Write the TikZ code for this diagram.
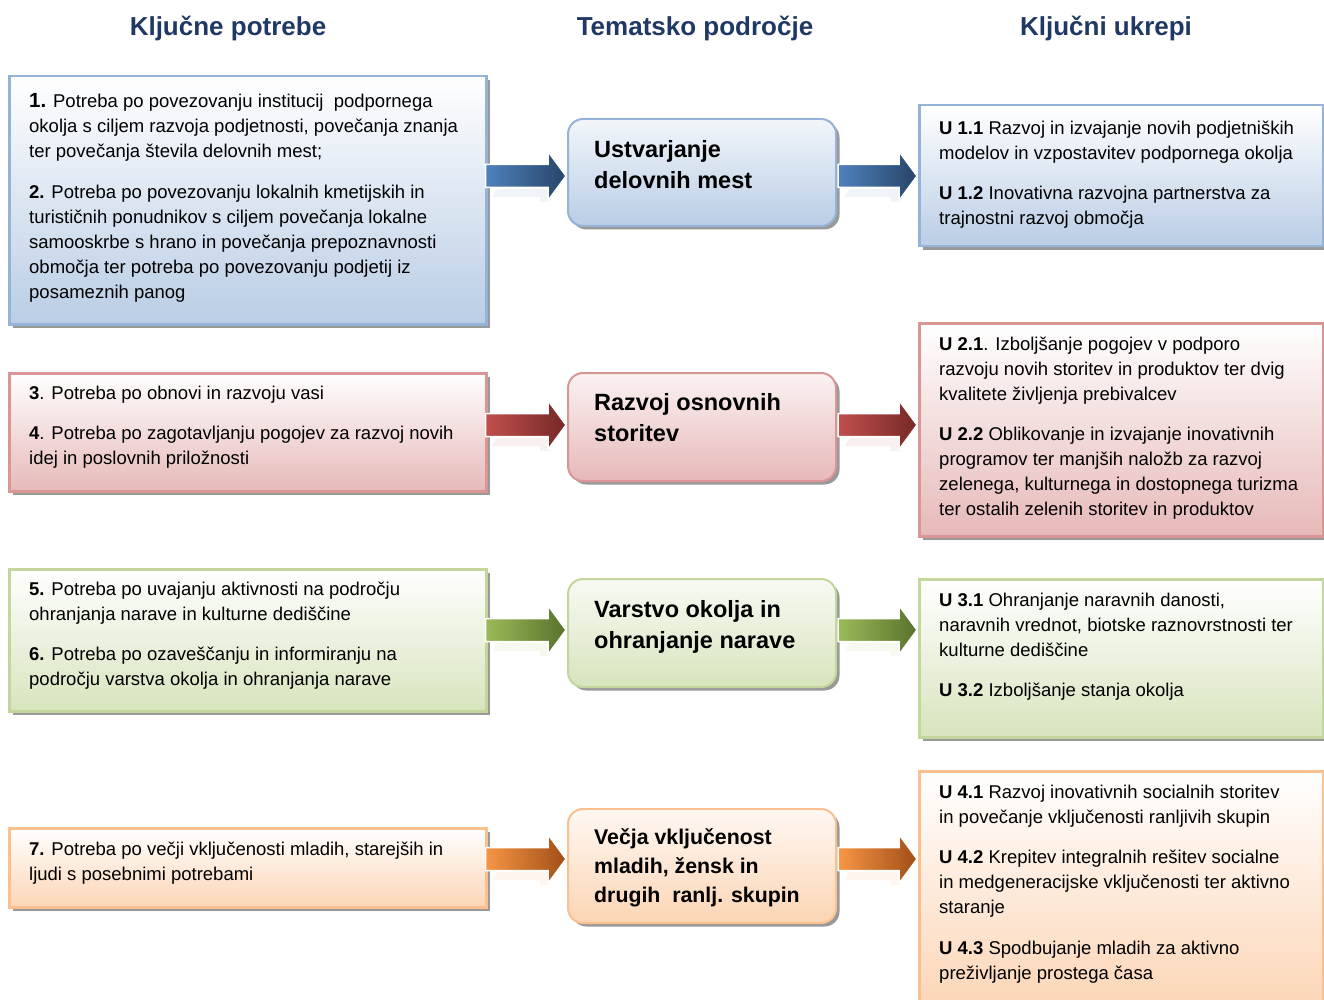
\documentclass[tikz,border=0pt]{standalone}
\usepackage{fontspec}
\setmainfont{Liberation Sans}
\usetikzlibrary{calc,shadows}
\definecolor{hdr}{RGB}{31,56,100}
\definecolor{bluebd}{RGB}{149,179,215}
\definecolor{bluefl}{RGB}{185,205,229}
\definecolor{bluea}{RGB}{79,129,189}
\definecolor{blueb}{RGB}{40,68,104}
\definecolor{redbd}{RGB}{217,150,148}
\definecolor{redfl}{RGB}{230,185,184}
\definecolor{reda}{RGB}{192,80,77}
\definecolor{redb}{RGB}{118,40,38}
\definecolor{greenbd}{RGB}{195,214,155}
\definecolor{greenfl}{RGB}{215,228,189}
\definecolor{greena}{RGB}{155,187,89}
\definecolor{greenb}{RGB}{88,114,44}
\definecolor{orangebd}{RGB}{250,192,144}
\definecolor{orangefl}{RGB}{252,213,181}
\definecolor{orangea}{RGB}{247,150,70}
\definecolor{orangeb}{RGB}{160,78,22}
\tikzset{
  boxbase/.style={rectangle, inner sep=0pt, anchor=north west,
    drop shadow={shadow xshift=3.5pt, shadow yshift=-3.5pt, fill=black!40, opacity=1}},
  needbox/.style={boxbase, draw=#1bd, line width=2.5pt, top color=white, bottom color=#1fl},
  themebox/.style={boxbase, draw=#1bd, line width=2pt, rounded corners=15pt,
    top color=#1fl!18!white, bottom color=#1fl},
  txt/.style={anchor=north west, inner sep=0pt, align=left, text=black,
    font=\fontsize{18.5}{25}\selectfont},
  themetxt/.style={anchor=north west, inner sep=0pt, align=left, text=black,
    font=\bfseries\fontsize{23.5}{31.5}\selectfont},
  header/.style={anchor=base, inner sep=0pt, text=hdr,
    font=\bfseries\fontsize{26}{30}\selectfont},
}
\newcommand\myarrow[3]{%
  \fill[#3a!25, opacity=.35] ($(#1)+(12,13)$) -- ($(#2)+(-18,13)$) -- ($(#2)+(-16,26)$) -- ($(#2)+(-26,26)$) -- ($(#2)+(-26,21)$) -- ($(#1)+(6,21)$) -- cycle;
  \draw[draw=white, line width=1.5pt, left color=#3a, right color=#3b]
    ($(#1)+(0,-11.5)$) -- ($(#2)+(-18,-11.5)$) -- ($(#2)+(-18,-24.5)$) -- (#2)
    -- ($(#2)+(-18,24.5)$) -- ($(#2)+(-18,11.5)$) -- ($(#1)+(0,11.5)$) -- cycle;}
\begin{document}
\begin{tikzpicture}[x=1pt,y=-1pt]
\useasboundingbox (0,0) rectangle (1324,1000);
\clip (0,0) rectangle (1324,1000);

% headers
\node[header] (h1) at (228,35.5) {Ključne potrebe};
\node[header] (h2) at (695,35.5) {Tematsko področje};
\node[header] (h3) at (1106,35.5) {Ključni ukrepi};

% left boxes
\node[needbox=blue, minimum width=477pt, minimum height=248pt] (n1) at (8,75) {};
\node[needbox=red, minimum width=477pt, minimum height=118pt] (n2) at (8,372) {};
\node[needbox=green, minimum width=477pt, minimum height=142pt] (n3) at (8,568) {};
\node[needbox=orange, minimum width=477pt, minimum height=79pt] (n4) at (8,827) {};

% centre boxes
\node[themebox=blue, minimum width=268pt, minimum height=107pt] (c1) at (567,118) {};
\node[themebox=red, minimum width=268pt, minimum height=108pt] (c2) at (567,372) {};
\node[themebox=green, minimum width=268pt, minimum height=108pt] (c3) at (567,578) {};
\node[themebox=orange, minimum width=268pt, minimum height=114pt] (c4) at (567,808) {};

% right boxes
\node[needbox=blue, minimum width=404pt, minimum height=141pt] (r1) at (918,104) {};
\node[needbox=red, minimum width=404pt, minimum height=213pt] (r2) at (918,322) {};
\node[needbox=green, minimum width=404pt, minimum height=158pt] (r3) at (918,578) {};
\node[needbox=orange, minimum width=404pt, minimum height=240pt] (r4) at (918,770) {};

% arrows
\coordinate (a1s) at ($(n1.east |- 0,176)+(-2,0)$);
\coordinate (a1e) at ($(c1.west |- 0,176)+(-1,0)$);
\coordinate (b1s) at ($(c1.east |- 0,176)+(1,0)$);
\coordinate (b1e) at ($(r1.west |- 0,176)+(-1,0)$);
\coordinate (a2s) at ($(n2.east |- 0,425)+(-2,0)$);
\coordinate (a2e) at ($(c2.west |- 0,425)+(-1,0)$);
\coordinate (b2s) at ($(c2.east |- 0,425)+(1,0)$);
\coordinate (b2e) at ($(r2.west |- 0,425)+(-1,0)$);
\coordinate (a3s) at ($(n3.east |- 0,630)+(-2,0)$);
\coordinate (a3e) at ($(c3.west |- 0,630)+(-1,0)$);
\coordinate (b3s) at ($(c3.east |- 0,630)+(1,0)$);
\coordinate (b3e) at ($(r3.west |- 0,630)+(-1,0)$);
\coordinate (a4s) at ($(n4.east |- 0,859)+(-2,0)$);
\coordinate (a4e) at ($(c4.west |- 0,859)+(-1,0)$);
\coordinate (b4s) at ($(c4.east |- 0,859)+(1,0)$);
\coordinate (b4e) at ($(r4.west |- 0,859)+(-1,0)$);
\myarrow{a1s}{a1e}{blue}
\myarrow{b1s}{b1e}{blue}
\myarrow{a2s}{a2e}{red}
\myarrow{b2s}{b2e}{red}
\myarrow{a3s}{a3e}{green}
\myarrow{b3s}{b3e}{green}
\myarrow{a4s}{a4e}{orange}
\myarrow{b4s}{b4e}{orange}

% left texts
\node[txt] (tn1) at (29,93.5) {{\bfseries\fontsize{20.5}{25}\selectfont 1.} Potreba po povezovanju institucij\ \ podpornega\\
okolja s ciljem razvoja podjetnosti, povečanja znanja\\
ter povečanja števila delovnih mest;\\[15.5pt]
\textbf{2.} Potreba po povezovanju lokalnih kmetijskih in\\
turističnih ponudnikov s ciljem povečanja lokalne\\
samooskrbe s hrano in povečanja prepoznavnosti\\
območja ter potreba po povezovanju podjetij iz\\
posameznih panog};
\node[txt] (tn2) at (29,385.5) {\textbf{3}. Potreba po obnovi in razvoju vasi\\[15.5pt]
\textbf{4}. Potreba po zagotavljanju pogojev za razvoj novih\\
idej in poslovnih priložnosti};
\node[txt] (tn3) at (29,581.5) {\textbf{5.} Potreba po uvajanju aktivnosti na področju\\
ohranjanja narave in kulturne dediščine\\[15.5pt]
\textbf{6.} Potreba po ozaveščanju in informiranju na\\
področju varstva okolja in ohranjanja narave};
\node[txt] (tn4) at (29,841.5) {\textbf{7.} Potreba po večji vključenosti mladih, starejših in\\
ljudi s posebnimi potrebami};

% centre texts
\node[themetxt] (tc1) at (594,140) {Ustvarjanje\\delovnih mest};
\node[themetxt] (tc2) at (594,393) {Razvoj osnovnih\\storitev};
\node[themetxt] (tc3) at (594,600) {Varstvo okolja in\\ohranjanje narave};
\node[themetxt, font=\bfseries\fontsize{21.3}{29}\selectfont] (tc4) at (594,828.5) {Večja vključenost\\mladih, žensk in\\drugih\ \ ranlj. skupin};

% right texts
\node[txt] (tr1) at (939,120.5) {\textbf{U 1.1} Razvoj in izvajanje novih podjetniških\\
modelov in vzpostavitev podpornega okolja\\[15.5pt]
\textbf{U 1.2} Inovativna razvojna partnerstva za\\
trajnostni razvoj območja};
\node[txt] (tr2) at (939,336.5) {\textbf{U 2.1}. Izboljšanje pogojev v podporo\\
razvoju novih storitev in produktov ter dvig\\
kvalitete življenja prebivalcev\\[15.5pt]
\textbf{U 2.2} Oblikovanje in izvajanje inovativnih\\
programov ter manjših naložb za razvoj\\
zelenega, kulturnega in dostopnega turizma\\
ter ostalih zelenih storitev in produktov};
\node[txt] (tr3) at (939,592.5) {\textbf{U 3.1} Ohranjanje naravnih danosti,\\
naravnih vrednot, biotske raznovrstnosti ter\\
kulturne dediščine\\[15.5pt]
\textbf{U 3.2} Izboljšanje stanja okolja};
\node[txt] (tr4) at (939,784.5) {\textbf{U 4.1} Razvoj inovativnih socialnih storitev\\
in povečanje vključenosti ranljivih skupin\\[15.5pt]
\textbf{U 4.2} Krepitev integralnih rešitev socialne\\
in medgeneracijske vključenosti ter aktivno\\
staranje\\[15.5pt]
\textbf{U 4.3} Spodbujanje mladih za aktivno\\
preživljanje prostega časa};
\end{tikzpicture}
\end{document}
